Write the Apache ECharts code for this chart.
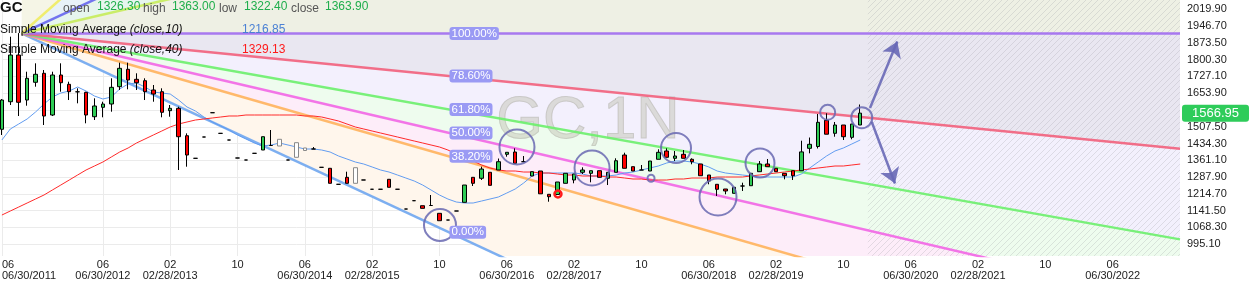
<!DOCTYPE html>
<html><head><meta charset="utf-8">
<script src="https://cdn.jsdelivr.net/npm/echarts@6/dist/echarts.min.js"></script>
<style>html,body{margin:0;padding:0;background:#fff;overflow:hidden}#c{width:1250px;height:284px}</style>
</head><body><div id="c"></div>
<script>
// ---------- DATA ----------
const startYear = 2011, startMonth = 6, monthCount = 141;
const categories = [];
for (let i = 0; i < monthCount; i++) {
  const m = (startMonth - 1 + i) % 12 + 1, y = startYear + Math.floor((startMonth - 1 + i) / 12);
  categories.push(y + '-' + String(m).padStart(2, '0'));
}
const xTickCats = ['2011-06','2012-06','2013-02','2013-10','2014-06','2015-02','2015-10','2016-06','2017-02','2017-10','2018-06','2019-02','2019-10','2020-06','2021-02','2021-10','2022-06'];
const xTickTexts = ['06\n06/30/2011','06\n06/30/2012','02\n02/28/2013','10','06\n06/30/2014','02\n02/28/2015','10','06\n06/30/2016','02\n02/28/2017','10','06\n06/30/2018','02\n02/28/2019','10','06\n06/30/2020','02\n02/28/2021','10','06\n06/30/2022'];
const yTicks = [995.10,1068.30,1141.50,1214.70,1287.90,1361.10,1434.30,1507.50,1580.70,1653.90,1727.10,1800.30,1873.50,1946.70,2019.90];

const opens = [1496.4,1616.8,1820.5,1624.2,1701.5,1740.7,1558.8,1733.3,1692.7,1660.0,
1657.8,1551.4,1592.4,1606.8,1682.3,1758.2,1714.5,1708.4,1667.9,1660.4,
1577.6,1588.0,1468.5,1369.9,1462.8,1568.8,1478.8,1449.7,1371.2,1362.5,
1391.7,1406.1,1425.8,1423.6,1362.5,1374.3,1404.0,1410.5,1330.6,1326.3,
1256.5,1287.0,1260.9,1275.3,1234.9,1234.9,1278.3,1234.9,1148.7,1185.0,
1163.1,1164.0,1129.9,1100.7,1140.0,1177.9,1287.0,1282.7,1308.9,1318.9,
1387.4,1397.4,1355.1,1292.7,1314.5,1212.9,1212.0,1260.9,1275.3,1308.9,
1304.5,1315.8,1282.7,1308.9,1384.3,1333.3,1318.9,1314.5,1365.6,1401.8,
1369.9,1387.4,1365.6,1345.1,1297.1,1256.5,1236.0,1217.2,1249.1,1250.4,
1311.5,1345.1,1326.3,1304.5,1315.8,1315.8,1413.5,1421.4,1535.7,1479.0,
1515.2,1461.5,1515.2];
const closes = [1624.2,1820.5,1614.2,1718.9,1736.4,1554.4,1733.3,1699.7,1660.4,1660.0,
1558.8,1598.1,1606.8,1679.6,1762.5,1711.5,1699.7,1660.4,1650.4,1570.6,
1588.0,1464.1,1384.3,1369.9,1462.8,1568.8,1478.8,1449.7,1371.2,1362.5,
1391.7,1464.1,1425.8,1452.8,1362.5,1438.0,1415.0,1410.5,1330.6,1260.9,
1256.5,1260.9,1328.9,1275.3,1234.9,1234.9,1243.4,1234.9,1148.7,1185.0,
1151.7,1164.0,1097.7,1100.7,1140.0,1253.4,1260.9,1323.2,1252.1,1355.1,
1396.1,1348.1,1355.1,1311.5,1215.0,1202.4,1266.5,1304.5,1301.4,1318.9,
1315.8,1287.0,1308.9,1359.4,1326.3,1314.5,1318.9,1358.1,1396.1,1374.3,
1380.0,1369.9,1355.1,1294.0,1270.9,1234.7,1227.3,1243.4,1249.1,1304.5,
1345.1,1333.3,1311.5,1294.0,1294.0,1397.9,1431.0,1526.9,1475.0,1515.2,
1464.1,1519.6,1566.95];
const lows = [1471.6,1602.4,1554.4,1599.4,1682.3,1515.2,1554.4,1660.4,1624.2,1609.8,
1522.6,1537.0,1548.8,1573.2,1667.9,1670.9,1667.9,1624.2,1616.8,1548.8,
1551.4,1318.9,1333.3,1369.9,1462.8,1568.8,1478.8,1449.7,1371.2,1362.5,
1391.7,1406.1,1425.8,1423.6,1362.5,1374.3,1404.0,1410.5,1330.6,1260.9,
1256.5,1260.9,1260.9,1275.3,1234.9,1234.9,1243.4,1234.9,1148.7,1185.0,
1151.7,1164.0,1097.7,1100.7,1140.0,1177.9,1249.1,1275.3,1252.1,1318.9,
1376.9,1348.1,1355.1,1292.7,1215.0,1180.6,1212.0,1260.9,1260.9,1301.4,
1265.2,1287.0,1253.4,1308.9,1326.3,1314.5,1318.9,1314.5,1365.6,1374.3,
1358.1,1369.9,1343.8,1294.0,1256.5,1205.5,1212.9,1217.2,1227.3,1250.4,
1311.5,1333.3,1311.5,1278.3,1275.3,1315.8,1391.7,1412.7,1475.0,1464.1,
1449.8,1452.8,1515.2];
const highs = [1628.6,1900.4,1916.0,1747.7,1784.3,1755.1,1747.7,1784.3,1704.1,1675.3,
1660.0,1631.6,1616.8,1718.9,1787.0,1787.0,1740.7,1718.9,1689.7,1675.3,
1602.4,1595.0,1478.8,1369.9,1462.8,1568.8,1478.8,1449.7,1371.2,1362.5,
1391.7,1464.1,1493.4,1452.8,1362.5,1438.0,1415.0,1419.0,1330.6,1326.3,
1256.5,1311.5,1328.9,1275.3,1234.9,1234.9,1278.3,1234.9,1148.7,1185.0,
1163.1,1209.8,1129.9,1100.7,1140.0,1253.4,1287.0,1333.3,1308.9,1369.0,
1396.1,1413.5,1379.9,1311.5,1314.5,1212.9,1266.5,1304.5,1301.4,1330.6,
1315.8,1315.8,1308.9,1369.9,1394.3,1333.3,1340.7,1358.1,1409.2,1413.5,
1401.8,1406.1,1369.9,1345.1,1297.1,1256.5,1236.0,1243.4,1263.5,1304.5,
1358.1,1366.9,1326.3,1304.5,1315.8,1446.7,1460.6,1563.2,1566.2,1528.3,
1515.2,1519.6,1604.6];
const hollowBars = [33, 35, 36, 42];

const sma10 = [1449.8,1497.8,1519.6,1541.4,1571.9,1606.8,1637.3,1654.8,1663.5,1681.0,
1663.5,1641.7,1628.6,1637.3,1672.3,1694.1,1698.4,1681.0,1659.2,1654.8,
1650.4,1624.3,1593.7,1576.3,1550.1,1528.3,1510.8,1493.4,1471.6,1454.1,
1436.7,1423.6,1427.9,1436.7,1427.9,1419.2,1410.5,1410.5,1406.1,1397.4,
1380.0,1366.9,1353.8,1345.0,1332.0,1318.9,1310.1,1297.1,1284.0,1270.9,
1253.4,1231.6,1209.8,1192.3,1179.3,1174.9,1174.9,1183.6,1192.3,1201.1,
1218.5,1236.0,1262.1,1292.7,1305.8,1305.8,1305.8,1305.8,1305.8,1301.4,
1292.7,1292.7,1292.7,1297.1,1305.8,1310.1,1318.9,1327.6,1336.3,1349.4,
1358.1,1358.1,1353.8,1345.0,1332.0,1314.5,1305.8,1301.4,1297.1,1292.7,
1288.3,1288.3,1288.3,1288.3,1288.3,1301.4,1327.6,1353.8,1380.0,1401.8,
1414.9,1432.3,1449.8];
const sma40 = [1122.5,1140.0,1157.4,1174.9,1192.3,1209.8,1231.6,1253.4,1275.2,1297.1,
1318.9,1336.3,1353.8,1375.6,1397.4,1414.9,1436.7,1454.1,1471.6,1489.0,
1506.5,1519.6,1528.3,1537.0,1541.4,1545.8,1550.1,1554.5,1554.5,1558.8,
1558.8,1558.8,1558.8,1558.8,1558.8,1558.8,1554.5,1554.5,1550.1,1541.4,
1532.7,1519.6,1506.5,1497.8,1489.0,1480.3,1471.6,1462.9,1454.1,1445.4,
1436.7,1427.9,1419.2,1406.1,1388.7,1371.2,1358.1,1340.7,1327.6,1318.9,
1314.5,1314.5,1310.1,1310.1,1305.8,1305.8,1301.4,1297.1,1297.1,1292.7,
1292.7,1292.7,1288.3,1288.3,1284.0,1279.6,1279.6,1275.2,1275.2,1275.2,
1279.6,1279.6,1284.0,1284.0,1284.0,1288.3,1288.3,1288.3,1288.3,1292.7,
1297.1,1301.4,1305.8,1310.1,1314.5,1318.9,1323.2,1327.6,1332.0,1336.3,
1336.3,1340.7,1345.0];

// Fib fan: anchor (bar index, price) and end point (bar index, price)
const fanStart = [2.35, 1914.4];
const fanEnd = [53.13, 1047.1];
const fanLevels = [0, 0.382, 0.5, 0.618, 0.786, 1, 1.5, 2.0, 2.9];
const fanLabels = ['0.00%', '38.20%', '50.00%', '61.80%', '78.60%', '100.00%'];
const futureStart = 102.9; // hatched region begins (bar index)

const circleCenters = [[52.06,1079.0],[61.21,1419.2],[70.13,1327.6],[80.11,1414.9],[85.1,1201.1],[90.09,1349.4],[77.14,1282.7],[98.13,1570.6],[102.18,1547.0]];
const markerRing = [[66.08, 1214.2]];
const arrowLines = [[[103.16,1589.4],[106.4,1879.5]], [[103.36,1529.6],[106.13,1260.0]]];

const legendOHLC = ['1326.30', '1363.00', '1322.40', '1363.90'];
const legendSMA = ['1216.85', '1329.13'];

// ---------- STYLE ----------
const FONT = '"Liberation Sans", Arial, sans-serif';
const yMin = 943.75, yMax = 2060.5;
const fanLineColors = ['#6fa6f0', '#ffb35c', '#f266e6', '#6cf06c', '#f2607c', '#a06cf0', '#c6ec5a', '#6666ee', '#f0ec60'];
const bandColors = ['#fff6ec', '#fdedf9', '#eefcee', '#f3f0fd', '#e9e7f1', '#eef0e4', '#e6f5ee', '#e8f2f8', '#f5f5e6'];
const circleSizes = [32, 35, 35, 30, 37, 29, 7, 15, 21];

const xEnd = monthCount - 1;
function levelPrice(L) { return fanEnd[1] + L * (fanStart[1] - fanEnd[1]); }
function fanAt(L, x) { return fanStart[1] + (levelPrice(L) - fanStart[1]) * (x - fanStart[0]) / (fanEnd[0] - fanStart[0]); }

function clipPoly(pts, x0, y0, x1, y1) {
  const planes = [
    [p => p[0] >= x0, (a, b) => { const t = (x0 - a[0]) / (b[0] - a[0]); return [x0, a[1] + t * (b[1] - a[1])]; }],
    [p => p[0] <= x1, (a, b) => { const t = (x1 - a[0]) / (b[0] - a[0]); return [x1, a[1] + t * (b[1] - a[1])]; }],
    [p => p[1] >= y0, (a, b) => { const t = (y0 - a[1]) / (b[1] - a[1]); return [a[0] + t * (b[0] - a[0]), y0]; }],
    [p => p[1] <= y1, (a, b) => { const t = (y1 - a[1]) / (b[1] - a[1]); return [a[0] + t * (b[0] - a[0]), y1]; }]
  ];
  let out = pts;
  for (const [inside, inter] of planes) {
    const inp = out; out = [];
    for (let i = 0; i < inp.length; i++) {
      const cur = inp[i], prev = inp[(i + inp.length - 1) % inp.length];
      const ci = inside(cur), pi = inside(prev);
      if (ci) { if (!pi) out.push(inter(prev, cur)); out.push(cur); }
      else if (pi) out.push(inter(prev, cur));
    }
    if (!out.length) break;
  }
  return out;
}

// hatch pattern
const pat = document.createElement('canvas');
pat.width = 6; pat.height = 6;
(function () {
  const g = pat.getContext('2d');
  g.strokeStyle = 'rgba(160,160,170,0.28)'; g.lineWidth = 1;
  g.beginPath(); g.moveTo(0, 6); g.lineTo(6, 0); g.moveTo(-1, 1); g.lineTo(1, -1); g.moveTo(5, 7); g.lineTo(7, 5); g.stroke();
})();

const chart = echarts.init(document.getElementById('c'), null, { renderer: 'canvas' });

const candleData = opens.map((o, i) => {
  const v = [o, closes[i], lows[i], highs[i]];
  if (hollowBars.indexOf(i) >= 0) return { value: v, itemStyle: { color: '#fff', color0: '#fff', borderColor: '#888', borderColor0: '#888', borderColorDoji: '#888' } };
  return v;
});

const bandIdx = fanLevels.map((_, i) => [i, 0]);

const series = [];
// fan fills
series.push({
  type: 'custom', xAxisIndex: 1, yAxisIndex: 0, z: 1, silent: true, animation: false,
  data: bandIdx,
  renderItem: function (params, api) {
    const k = api.value(0);
    const cs = params.coordSys;
    let pts;
    const A = fanStart;
    if (k < fanLevels.length - 1) {
      pts = [A, [xEnd, fanAt(fanLevels[k], xEnd)], [xEnd, fanAt(fanLevels[k + 1], xEnd)]];
    } else {
      const top = fanAt(fanLevels[k], xEnd);
      pts = [A, [xEnd, top], [A[0], top]];
    }
    const px = clipPoly(pts.map(p => api.coord(p)), cs.x, cs.y, cs.x + cs.width, cs.y + cs.height);
    if (px.length < 3) return null;
    return { type: 'polygon', shape: { points: px }, style: { fill: bandColors[k], stroke: null } };
  }
});
// hatched future region
series.push({
  type: 'custom', xAxisIndex: 1, yAxisIndex: 0, z: 1.2, silent: true,
  data: [[futureStart, yMax]],
  renderItem: function (params, api) {
    const cs = params.coordSys;
    const p0 = api.coord([futureStart, yMax]);
    const p1 = api.coord([xEnd, yMin]);
    return { type: 'rect', shape: { x: p0[0], y: cs.y, width: p1[0] - p0[0], height: cs.height }, style: { fill: { image: pat, repeat: 'repeat' } } };
  }
});
// fan lines
fanLevels.forEach((L, i) => {
  series.push({
    type: 'line', xAxisIndex: 1, yAxisIndex: 0, z: 2, silent: true, symbol: 'none', clip: true,
    data: [[fanStart[0], fanStart[1]], [xEnd, fanAt(L, xEnd)]],
    lineStyle: { color: fanLineColors[i], width: 2.5, opacity: 0.9 }
  });
});
// SMAs
series.push({ type: 'line', name: 'SMA10', xAxisIndex: 0, yAxisIndex: 0, z: 3, data: sma10, symbol: 'none', lineStyle: { color: '#629cf0', width: 1 }, silent: true });
series.push({ type: 'line', name: 'SMA40', xAxisIndex: 0, yAxisIndex: 0, z: 3, data: sma40, symbol: 'none', lineStyle: { color: '#ff2a2a', width: 1 }, silent: true });
// candles
series.push({
  type: 'candlestick', xAxisIndex: 0, yAxisIndex: 0, z: 4, barWidth: 4, clip: false, silent: true,
  data: candleData,
  itemStyle: { color: '#2ecc55', color0: '#ff0000', borderColor: '#000', borderColor0: '#000', borderColorDoji: '#000', borderWidth: 1 }
});
// price tag on the right axis
series.push({
  type: 'line', xAxisIndex: 1, yAxisIndex: 0, z: 8, silent: true, symbol: 'none',
  data: [[fanStart[0], closes[closes.length - 1]], [xEnd, closes[closes.length - 1]]],
  lineStyle: { color: 'rgba(0,0,0,0)', width: 0 },
  endLabel: {
    show: true, distance: 2,
    formatter: () => closes[closes.length - 1].toFixed(2),
    backgroundColor: '#2ecc5a', color: '#fff', fontSize: 13, fontFamily: FONT, padding: [2, 10, 2, 10], borderRadius: 3
  }
});
// circles
series.push({
  type: 'scatter', xAxisIndex: 1, yAxisIndex: 0, z: 5, silent: true,
  data: circleCenters.map((c, i) => ({ value: c, symbolSize: circleSizes[i] })),
  itemStyle: { color: 'rgba(0,0,0,0)', borderColor: 'rgba(104,104,178,0.85)', borderWidth: 2, opacity: 1 }
});
series.push({
  type: 'scatter', xAxisIndex: 1, yAxisIndex: 0, z: 5, silent: true,
  data: markerRing, symbolSize: 7,
  itemStyle: { color: 'rgba(0,0,0,0)', borderColor: '#ff1a1a', borderWidth: 2.5, opacity: 1 }
});
// fib labels + arrows
series.push({
  type: 'scatter', xAxisIndex: 1, yAxisIndex: 0, z: 6, silent: true, symbolSize: 1,
  itemStyle: { opacity: 1, color: 'rgba(0,0,0,0)' },
  data: fanLabels.map((t, i) => [fanEnd[0], levelPrice(fanLevels[i])]),
  label: {
    show: true, position: 'right', distance: 0,
    formatter: (p) => fanLabels[p.dataIndex],
    backgroundColor: '#9a9af4', color: '#fff', fontSize: 11.5, fontFamily: FONT,
    padding: [1, 2, 0, 2], borderRadius: 3, opacity: 1
  },
  markLine: {
    silent: true, animation: false, symbol: ['none', 'arrow'], symbolSize: 15,
    lineStyle: { color: 'rgba(104,104,182,0.9)', width: 2.5, type: 'solid' },
    label: { show: false },
    data: arrowLines.map(a => [{ coord: a[0] }, { coord: a[1] }])
  }
});

const option = {
  animation: false,
  grid: { left: 1.9, right: 70, top: 0, bottom: 28, containLabel: false, outerBoundsMode: 'none' },
  xAxis: [{
    type: 'category', data: categories, boundaryGap: false,
    axisLine: { show: false }, axisTick: { show: false },
    axisLabel: {
      interval: (i, v) => xTickCats.indexOf(v) >= 0,
      formatter: (v) => xTickTexts[xTickCats.indexOf(v)] || '',
      fontSize: 11, lineHeight: 11, color: '#222', margin: 3, fontFamily: FONT, alignMinLabel: 'left', hideOverlap: false
    },
    splitLine: { show: true, interval: (i, v) => xTickCats.indexOf(v) >= 0, lineStyle: { color: '#ebebeb', width: 1 } }
  }, {
    type: 'value', min: 0, max: xEnd, show: false
  }],
  yAxis: {
    type: 'value', position: 'right', min: yMin, max: yMax,
    axisLine: { show: false }, axisTick: { show: false, customValues: yTicks },
    axisLabel: { customValues: yTicks, formatter: (v) => Number(v).toFixed(2), fontSize: 11, color: '#222', margin: 7, fontFamily: FONT },
    splitLine: { show: true, lineStyle: { color: '#ebebeb', width: 1 } }
  },
  graphic: [
    { type: 'text', x: 588, y: 121, z: 1.5, silent: true, style: { text: 'GC,1N', font: '60px ' + FONT, fill: 'rgba(196,196,182,0.5)', stroke: 'rgba(160,160,150,0.45)', lineWidth: 1, textAlign: 'center', textVerticalAlign: 'middle' } },
    { type: 'text', x: 0, y: 8, z: 10, style: { text: 'GC', font: 'bold 15px ' + FONT, fill: '#111', textVerticalAlign: 'middle' } },
    { type: 'text', x: 63, y: 9, z: 10, style: { text: 'open', font: '12px ' + FONT, fill: '#555', textVerticalAlign: 'middle' } },
    { type: 'text', x: 97, y: 7, z: 10, style: { text: legendOHLC[0], font: '12px ' + FONT, fill: '#1fae4c', textVerticalAlign: 'middle' } },
    { type: 'text', x: 143, y: 9, z: 10, style: { text: 'high', font: '12px ' + FONT, fill: '#555', textVerticalAlign: 'middle' } },
    { type: 'text', x: 172, y: 7, z: 10, style: { text: legendOHLC[1], font: '12px ' + FONT, fill: '#1fae4c', textVerticalAlign: 'middle' } },
    { type: 'text', x: 219, y: 9, z: 10, style: { text: 'low', font: '12px ' + FONT, fill: '#555', textVerticalAlign: 'middle' } },
    { type: 'text', x: 244, y: 7, z: 10, style: { text: legendOHLC[2], font: '12px ' + FONT, fill: '#1fae4c', textVerticalAlign: 'middle' } },
    { type: 'text', x: 291, y: 9, z: 10, style: { text: 'close', font: '12px ' + FONT, fill: '#555', textVerticalAlign: 'middle' } },
    { type: 'text', x: 325, y: 7, z: 10, style: { text: legendOHLC[3], font: '12px ' + FONT, fill: '#1fae4c', textVerticalAlign: 'middle' } },
    { type: 'text', x: 0, y: 30, z: 10, style: { text: '{n|Simple Moving Average }{i|(close,10)}', rich: { n: { font: '12px ' + FONT, fill: '#111' }, i: { font: 'italic 12px ' + FONT, fill: '#111' } }, textVerticalAlign: 'middle' } },
    { type: 'text', x: 242, y: 30, z: 10, style: { text: legendSMA[0], font: '12px ' + FONT, fill: '#4a80d4', textVerticalAlign: 'middle' } },
    { type: 'text', x: 0, y: 50, z: 10, style: { text: '{n|Simple Moving Average }{i|(close,40)}', rich: { n: { font: '12px ' + FONT, fill: '#111' }, i: { font: 'italic 12px ' + FONT, fill: '#111' } }, textVerticalAlign: 'middle' } },
    { type: 'text', x: 242, y: 50, z: 10, style: { text: legendSMA[1], font: '12px ' + FONT, fill: '#ff1a1a', textVerticalAlign: 'middle' } }
  ],
  series: series
};
chart.setOption(option);
</script>
</body></html>
